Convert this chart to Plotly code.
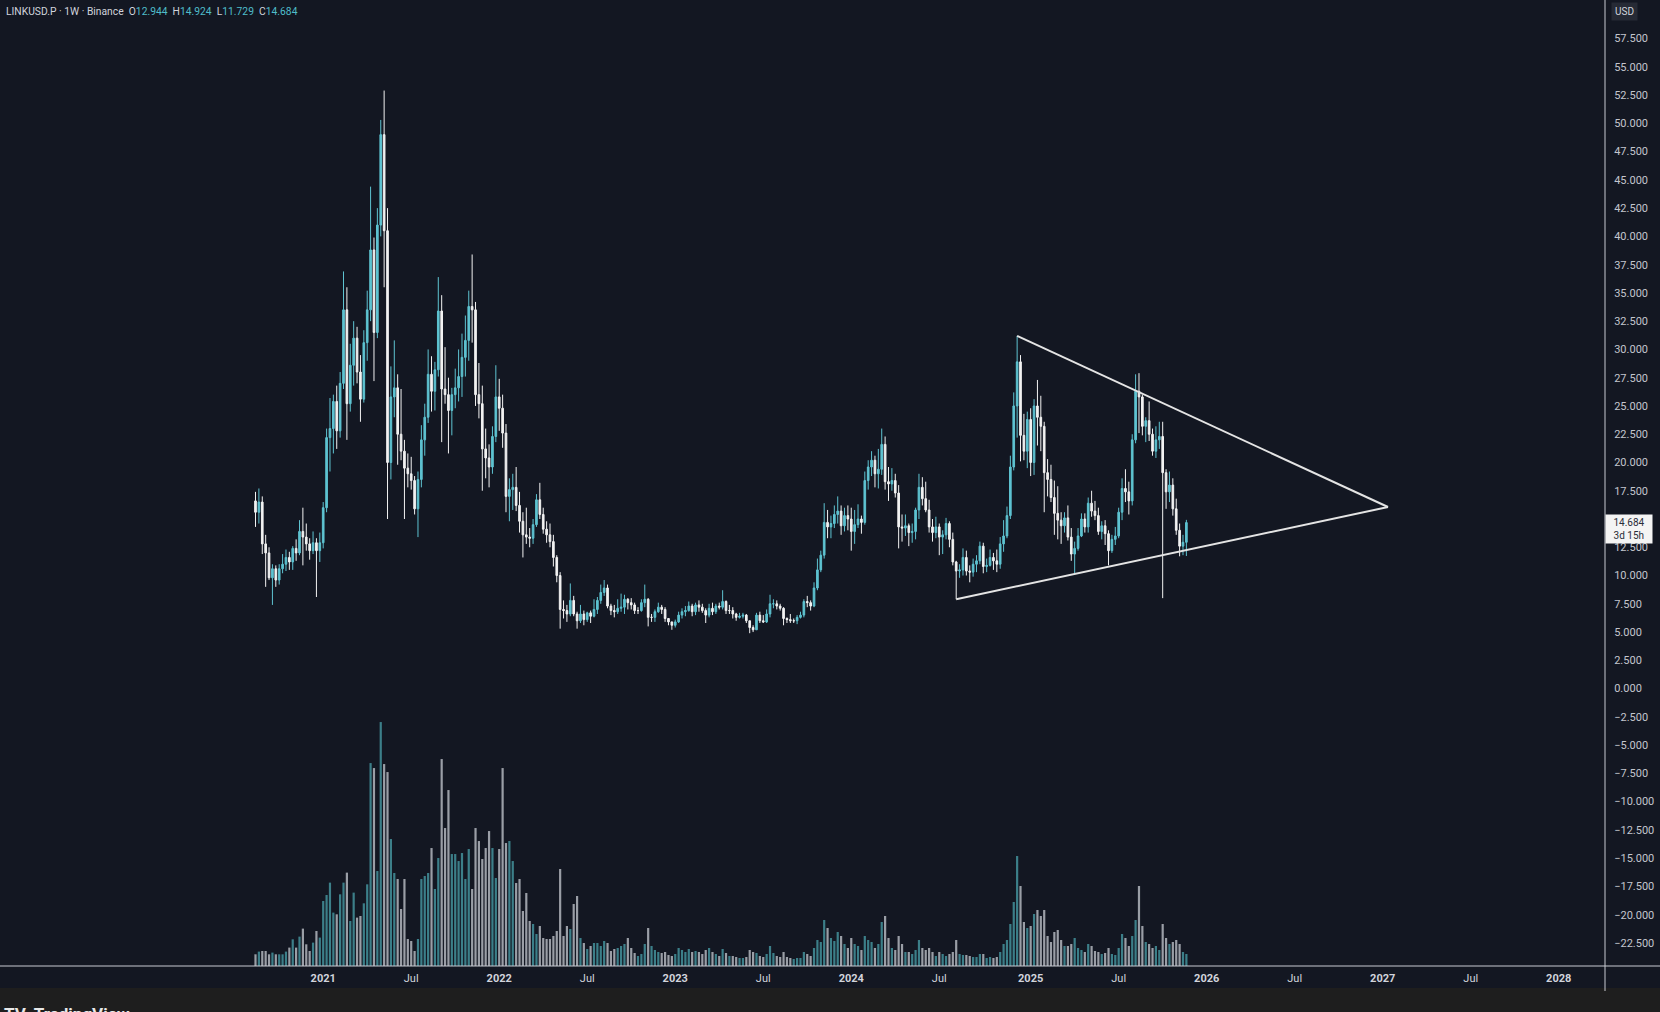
import pandas as pd
import plotly.graph_objects as go

# ---------------- data ----------------
symbol_title = "LINKUSD.P · 1W · Binance"
last_o, last_h, last_l, last_c = "12.944", "14.924", "11.729", "14.684"
countdown = "3d 15h"
currency = "USD"

start_week = "2020-08-17"
first_open = 16.6

close = [15.6, 16.5, 12.8, 12.0, 9.8, 10.6, 9.6, 10.6, 11.0, 11.6,
         11.2, 12.4, 12.0, 13.9, 13.4, 12.8, 12.2, 12.9, 12.2, 12.9,
         16.0, 22.2, 23.0, 25.4, 22.8, 27.0, 33.5, 25.2, 28.6, 31.0,
         28.0, 25.6, 30.6, 33.5, 38.8, 31.5, 41.0, 49.0, 40.5, 20.0,
         25.8, 26.6, 22.5, 21.0, 19.5, 19.0, 18.4, 15.9, 18.5, 22.0,
         24.0, 27.8, 26.3, 28.2, 33.4, 26.5, 26.0, 24.6, 26.0, 26.6,
         27.6, 29.3, 30.8, 33.8, 33.5, 26.0, 25.2, 21.2, 20.4, 19.6,
         22.3, 25.8, 24.8, 22.6, 17.0, 17.6, 17.8, 16.2, 14.8, 13.6,
         13.4, 13.3, 14.5, 16.7, 15.4, 14.1, 13.6, 13.0, 11.6, 10.0,
         7.0, 6.9, 6.6, 7.8, 6.6, 6.0, 6.6, 6.1, 6.7, 6.4,
         7.0, 7.8, 8.5, 8.9, 7.3, 6.9, 6.8, 7.1, 7.2, 7.9,
         7.6, 7.4, 6.9, 6.9, 7.6, 7.9, 6.3, 6.3, 6.8, 7.2,
         7.0, 6.2, 5.9, 5.6, 5.9, 6.5, 6.8, 6.9, 7.3, 6.8,
         7.4, 7.2, 6.9, 6.5, 7.1, 6.8, 7.3, 7.2, 7.7, 6.9,
         6.9, 6.6, 6.3, 6.4, 6.5, 6.0, 5.4, 5.2, 6.5, 6.0,
         5.9, 6.6, 7.5, 7.5, 7.3, 7.1, 6.2, 6.1, 6.0, 6.0,
         6.3, 6.5, 7.7, 7.6, 7.3, 8.9, 10.5, 11.8, 14.7, 14.3,
         14.6, 15.4, 15.7, 14.4, 15.3, 15.0, 13.9, 14.5, 15.0, 14.7,
         18.4, 19.6, 20.2, 19.0, 19.4, 21.6, 18.3, 18.1, 18.4, 17.3,
         14.3, 14.2, 14.4, 13.8, 13.9, 15.8, 17.8, 16.8, 15.8, 14.3,
         13.8, 14.3, 13.4, 13.6, 14.6, 13.2, 11.2, 10.4, 10.5, 11.6,
         10.4, 10.3, 11.0, 11.3, 12.6, 10.8, 10.9, 11.6, 11.3, 11.0,
         12.8, 13.5, 15.3, 19.6, 25.0, 28.9, 22.4, 21.0, 23.8, 20.0,
         25.0, 24.0, 23.2, 19.1, 18.5, 16.9, 15.5, 14.9, 14.4, 15.1,
         13.4, 11.9, 12.4, 13.5, 15.0, 14.3, 16.4, 15.7, 15.3, 13.9,
         14.4, 13.7, 12.2, 13.2, 13.5, 15.6, 17.7, 17.4, 16.6, 22.0,
         26.3, 25.8, 23.2, 23.7, 22.5, 21.0, 22.0, 22.3, 19.1, 17.4,
         18.0, 15.9, 14.0, 12.6, 12.944, 14.684]

high = [17.4, 17.7, 17.0, 13.6, 12.5, 11.0, 10.9, 11.0, 11.9, 12.3,
        12.1, 12.6, 13.2, 14.9, 16.0, 14.6, 13.3, 13.9, 13.3, 13.8,
        16.5, 23.0, 25.7, 26.0, 26.8, 28.0, 36.9, 35.5, 30.5, 32.5,
        32.0, 29.5, 31.7, 35.2, 44.4, 39.9, 42.5, 50.3, 52.9, 42.5,
        28.5, 30.8, 27.8, 26.5, 22.0, 20.8, 20.5, 18.8, 19.2, 23.3,
        25.2, 30.0, 29.4, 28.9, 36.4, 34.8, 30.2, 27.5, 26.6, 28.3,
        30.0, 31.4, 33.0, 35.2, 38.4, 34.2, 28.8, 26.8, 23.0, 21.6,
        23.2, 28.6, 27.4, 26.0, 23.4, 18.6, 19.0, 19.6, 17.4, 15.6,
        16.0, 14.2, 15.0, 17.2, 18.2, 16.0, 14.8, 14.6, 13.6, 11.8,
        10.3, 7.8, 7.4, 9.3, 8.2, 6.8, 7.4, 6.9, 6.8, 6.9,
        7.9, 8.1, 9.2, 9.6, 9.2, 7.5, 7.4, 7.9, 8.4, 8.3,
        8.0, 8.0, 7.6, 7.2, 7.9, 9.2, 8.0, 6.6, 7.0, 7.6,
        7.4, 7.2, 6.2, 5.9, 6.1, 6.8, 7.1, 7.3, 7.7, 7.5,
        7.6, 7.8, 7.5, 7.1, 7.5, 7.6, 7.5, 7.6, 8.7, 7.8,
        7.4, 7.2, 6.7, 6.7, 6.7, 6.6, 6.0, 5.6, 6.7, 6.8,
        6.5, 7.0, 8.3, 7.9, 7.8, 7.5, 7.2, 6.3, 6.6, 6.2,
        6.5, 6.8, 7.9, 8.2, 7.8, 9.4, 11.5, 12.2, 16.4, 15.8,
        15.3, 16.2, 17.0, 16.2, 16.0, 16.2, 16.0, 15.8, 16.3, 15.3,
        19.2, 20.2, 21.0, 20.6, 21.2, 23.0, 22.3, 19.6, 19.5, 19.0,
        18.0, 15.4, 15.4, 14.6, 14.6, 16.0, 19.0, 18.7, 18.3, 16.7,
        15.0, 15.2, 14.6, 14.0, 15.1, 14.8, 13.8, 11.3, 11.0, 12.4,
        12.2, 10.9, 11.5, 11.8, 13.0, 12.9, 11.5, 12.3, 12.0, 12.3,
        13.4, 14.9, 16.1, 20.6, 26.2, 31.2, 29.5, 24.3, 24.5, 24.8,
        25.6, 27.3, 25.9, 23.6, 20.3, 19.8, 18.4, 17.9, 15.6, 15.6,
        16.2, 14.2, 13.0, 14.2, 15.5, 15.5, 16.9, 17.5, 16.6, 16.0,
        14.8, 14.9, 14.0, 13.6, 14.3, 16.0, 18.6, 19.4, 18.3, 22.5,
        27.8, 27.9, 26.0, 24.0, 25.4, 23.0, 23.2, 23.6, 23.6, 19.4,
        19.2, 18.6, 16.8, 14.6, 13.6, 14.924]

low = [14.3, 14.6, 11.9, 9.0, 9.6, 7.4, 9.0, 9.2, 10.2, 10.4,
       10.5, 10.5, 11.3, 11.8, 10.9, 12.2, 11.4, 11.9, 8.1, 11.2,
       12.4, 15.6, 19.2, 20.8, 21.2, 22.2, 26.5, 22.0, 24.5, 26.8,
       27.0, 23.6, 25.3, 29.0, 32.5, 27.2, 31.0, 40.0, 35.5, 15.0,
       18.5, 24.0, 19.8, 20.2, 15.0, 17.8, 17.6, 15.4, 13.4, 17.8,
       20.6, 23.5, 24.5, 24.6, 27.6, 21.8, 25.2, 20.8, 22.4, 24.8,
       25.4, 25.8, 27.6, 29.0, 30.6, 25.0, 23.9, 17.5, 18.6, 17.8,
       19.0, 21.8, 22.8, 21.3, 15.6, 14.8, 15.8, 15.7, 13.8, 11.6,
       12.8, 12.5, 12.8, 14.3, 15.0, 13.7, 12.9, 12.5, 10.8, 9.4,
       5.3, 6.2, 5.9, 6.4, 6.4, 5.3, 5.8, 5.6, 5.9, 5.8,
       6.3, 6.6, 7.5, 8.2, 7.1, 6.5, 6.3, 6.6, 6.8, 6.6,
       7.0, 7.0, 6.6, 6.6, 6.8, 7.2, 5.5, 5.9, 5.9, 6.7,
       6.6, 5.9, 5.6, 5.2, 5.4, 5.8, 6.2, 6.4, 6.8, 6.4,
       6.5, 6.8, 6.7, 5.8, 6.3, 6.5, 6.6, 7.0, 7.0, 6.6,
       6.6, 6.2, 6.0, 6.2, 6.2, 5.8, 4.9, 5.0, 5.3, 5.8,
       5.8, 5.8, 6.3, 7.1, 7.0, 6.9, 5.6, 5.8, 5.8, 5.8,
       5.7, 6.2, 6.3, 7.2, 6.9, 7.2, 8.7, 10.3, 11.5, 13.3,
       13.3, 14.2, 14.6, 13.6, 13.9, 14.0, 12.2, 12.8, 14.2, 13.7,
       14.5, 17.6, 18.8, 17.8, 17.7, 18.9, 17.6, 16.6, 17.5, 16.9,
       12.4, 13.0, 13.5, 12.6, 12.9, 13.2, 15.0, 16.2, 15.6, 13.8,
       13.0, 13.3, 11.8, 11.9, 13.2, 12.5, 10.9, 7.9, 9.8, 10.0,
       10.0, 9.4, 9.9, 10.3, 11.0, 10.2, 10.3, 10.8, 10.5, 10.3,
       10.6, 12.1, 13.3, 15.0, 19.3, 22.2, 20.1, 20.2, 19.5, 18.8,
       18.9, 21.5, 21.0, 15.6, 17.0, 16.5, 13.6, 13.2, 12.8, 13.8,
       13.1, 11.3, 10.1, 12.2, 13.4, 13.8, 13.8, 15.2, 14.9, 13.6,
       13.2, 12.7, 10.9, 12.0, 12.7, 13.3, 14.9, 16.5, 15.4, 16.2,
       21.7, 22.6, 22.4, 21.8, 21.9, 20.6, 20.4, 21.2, 8.0, 15.9,
       16.5, 15.3, 13.6, 11.7, 11.8, 11.729]

volume = [11.7, 14.4, 15, 15, 11.7, 13.4, 11.7, 11.7, 11.7, 14.4,
          18.4, 26.7, 18.4, 29.4, 37.4, 21.7, 15, 23.4, 35, 28.4,
          65, 71, 83.4, 53.4, 51.7, 71.7, 83.4, 93.4, 45, 73.4,
          48.4, 50, 62.7, 81.7, 203, 198, 95, 244, 202, 194,
          127, 93, 87, 57, 87, 27, 25, 15, 27, 87,
          90, 93, 118, 77, 108, 207, 138, 176, 112, 112,
          105, 113, 87, 117, 77, 138, 125, 107, 118, 135,
          118, 88, 117, 198, 123, 125, 105, 83, 87, 55,
          73, 45, 42, 32, 40, 28, 27, 27, 30, 35,
          97, 30, 40, 37, 62, 70, 28, 23, 17, 20,
          23, 23, 20, 25, 23, 15, 17, 18, 20, 22,
          28, 18, 13, 10, 12, 22, 38, 20, 16, 14,
          13, 14, 11, 10,
          12, 18, 16, 14, 17, 14, 15, 14, 12, 16,
          18, 14, 12, 10, 17, 13, 10, 10, 9, 8,
          8, 9, 16, 14, 13, 10, 9, 12, 20, 13,
          10, 9, 14, 9, 8, 7, 8, 8, 14, 12,
          10, 18, 26, 24, 46, 38, 28, 25, 34, 30,
          22, 18,
          28, 22, 20, 16, 30, 26, 24, 18, 22, 44,
          50, 28, 18, 16, 30, 22, 14, 14, 12, 16,
          26, 18, 16, 18, 14, 10, 14, 12, 10, 12,
          14, 26, 12, 11, 11, 10, 9, 9, 12, 12,
          8, 9, 8, 9, 14, 22, 26, 42, 64, 110,
          80, 44, 38,
          40, 52, 56, 50, 56, 30, 24, 34, 36, 26,
          20, 20, 22, 28, 18, 16, 14, 22, 20, 15,
          14, 12, 13, 18, 12, 11, 18, 32, 28, 20,
          30, 46, 80, 40, 24, 22, 18, 20, 16, 42,
          28, 22, 24, 26, 22, 14, 12]

# 15.000 sits behind the live price label on the reference, so it is not listed
price_tick_values = [-22.5, -20.0, -17.5, -15.0, -12.5, -10.0, -7.5, -5.0, -2.5, 0.0,
                     2.5, 5.0, 7.5, 10.0, 12.5, 17.5, 20.0, 22.5, 25.0,
                     27.5, 30.0, 32.5, 35.0, 37.5, 40.0, 42.5, 45.0, 47.5, 50.0,
                     52.5, 55.0, 57.5]

time_tick_dates = ["2021-01-04", "2021-07-05", "2022-01-03", "2022-07-04", "2023-01-02",
                   "2023-07-03", "2024-01-01", "2024-07-01", "2025-01-06", "2025-07-07",
                   "2026-01-05", "2026-07-06", "2027-01-04", "2027-07-05", "2028-01-03"]
time_tick_labels = ["2021", "Jul", "2022", "Jul", "2023", "Jul", "2024", "Jul", "2025", "Jul",
                    "2026", "Jul", "2027", "Jul", "2028"]

upper_line_dates = ["2024-12-09", "2027-01-15"]
upper_line_prices = [31.2, 16.06]
lower_line_dates = ["2024-08-05", "2027-01-15"]
lower_line_prices = [7.9, 16.06]

# ---------------- styles ----------------
BG = "#131722"
UP = "#5ec3d1"
DOWN = "#f2f2f2"
VOL_UP = "#3c7f89"
VOL_DOWN = "#9a9ea6"
TEXT = "#d1d4dc"
AXIS_TEXT = "#c3c6ce"
FONT = "Roboto, Inter, sans-serif"

dates = pd.date_range(start_week, periods=len(close), freq="7D")
opens = [first_open] + close[:-1]
vol_colors = [VOL_UP if c >= o else VOL_DOWN for o, c in zip(opens, close)]

fig = go.Figure()

fig.add_trace(go.Bar(
    x=dates, y=volume, marker=dict(color=vol_colors, line=dict(width=0)),
    yaxis="y2", hoverinfo="skip",
))

fig.add_trace(go.Candlestick(
    x=dates, open=opens, high=high, low=low, close=close,
    increasing=dict(line=dict(color=UP, width=1), fillcolor=UP),
    decreasing=dict(line=dict(color=DOWN, width=1), fillcolor=DOWN),
    whiskerwidth=0,
))

for xs, ys in ((upper_line_dates, upper_line_prices), (lower_line_dates, lower_line_prices)):
    fig.add_trace(go.Scatter(x=xs, y=ys, mode="lines",
                             line=dict(color="#e4e4e4", width=2), hoverinfo="skip"))

# axis calibration (plot area 1605 px wide)
anchor = pd.Timestamp("2021-01-04")
px_per_day = 3.385 / 7
x_left = anchor - pd.Timedelta(days=323.2 / px_per_day)
x_right = anchor + pd.Timedelta(days=(1605 - 323.2) / px_per_day)

fig.update_layout(
    width=1660, height=1012,
    margin=dict(l=0, r=55, t=0, b=46),
    paper_bgcolor=BG, plot_bgcolor=BG,
    showlegend=False,
    bargap=0.35,
    font=dict(family=FONT, color=TEXT),
    xaxis=dict(
        type="date", range=[x_left, x_right],
        rangeslider=dict(visible=False),
        showgrid=False, zeroline=False, showline=False,
        ticks="outside", ticklen=2, tickcolor=BG,
        tickvals=time_tick_dates,
        ticktext=[("<b>%s</b>" % t) if t.isdigit() else t for t in time_tick_labels],
        tickfont=dict(size=11, color=TEXT, family=FONT),
        fixedrange=True,
    ),
    yaxis=dict(
        range=[-24.54, 60.91], side="right",
        showgrid=False, zeroline=False, showline=False,
        ticks="outside", ticklen=6, tickcolor=BG,
        tickvals=price_tick_values,
        ticktext=[("−%.3f" % -v) if v < 0 else "%.3f" % v for v in price_tick_values],
        tickfont=dict(size=11, color=AXIS_TEXT, family=FONT),
        fixedrange=True,
    ),
    yaxis2=dict(overlaying="y", range=[0, max(volume) * 3.96], visible=False,
                fixedrange=True),
)

ohlc_color = "#4fbdca"
header = (symbol_title +
          "  O<span style='color:%s'>%s</span>" % (ohlc_color, last_o) +
          "  H<span style='color:%s'>%s</span>" % (ohlc_color, last_h) +
          "  L<span style='color:%s'>%s</span>" % (ohlc_color, last_l) +
          "  C<span style='color:%s'>%s</span>" % (ohlc_color, last_c))

fig.add_annotation(xref="paper", yref="paper", x=0, y=1, xanchor="left", yanchor="top",
                   xshift=4, yshift=-3, text=header, showarrow=False,
                   font=dict(size=10.3, color=TEXT, family=FONT), align="left")

fig.add_annotation(xref="paper", yref="paper", x=1, y=1, xanchor="left", yanchor="top",
                   xshift=6, yshift=-2, text=currency, showarrow=False,
                   bgcolor="#262a35", borderpad=3,
                   font=dict(size=10, color=TEXT, family=FONT))

fig.add_annotation(xref="paper", yref="y", x=1, y=float(last_c), xanchor="left",
                   yanchor="middle", yshift=-6, xshift=0,
                   text="%s<br>%s" % (last_c, countdown), showarrow=False,
                   bgcolor="#f4f4f4", borderpad=2, width=42,
                   font=dict(size=10, color="#2a2e39", family=FONT))

fig.add_annotation(xref="paper", yref="paper", x=0, y=-36 / 966, xanchor="left",
                   yanchor="top", xshift=2, text="<b>TV  TradingView</b>", showarrow=False,
                   font=dict(size=17, color="#e8e8e8", family=FONT))

# frame: footer strip, bottom separator, price-scale separator
fig.add_shape(type="rect", xref="paper", yref="paper", x0=-0.01, x1=1.05,
              y0=-0.07, y1=-22 / 966, fillcolor="#1e1e1e", line=dict(width=0),
              layer="below")
fig.add_shape(type="line", xref="paper", yref="paper", x0=0, x1=1.05, y0=0, y1=0,
              line=dict(color="#c8cbd2", width=1))
fig.add_shape(type="line", xref="paper", yref="paper", x0=1, x1=1, y0=-25 / 966, y1=1,
              line=dict(color="#c8cbd2", width=1))

fig.write_html("out.html", config={"displayModeBar": False},
               post_script="document.body.style.margin='0';document.body.style.overflow='hidden';")
